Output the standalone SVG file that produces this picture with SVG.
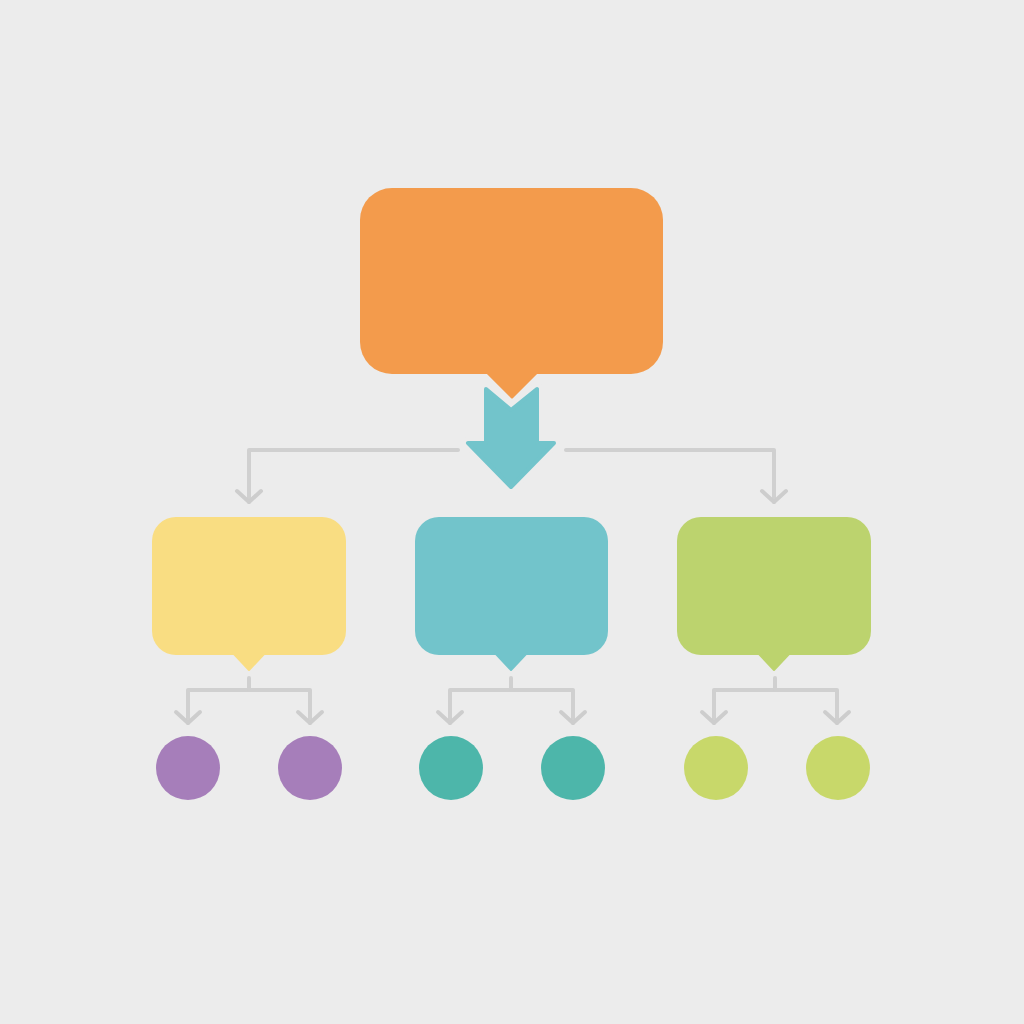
<svg xmlns="http://www.w3.org/2000/svg" width="1024" height="1024" viewBox="0 0 1024 1024">
  <defs>
    <marker id="chev" markerUnits="userSpaceOnUse" markerWidth="40" markerHeight="40" refX="0" refY="0" viewBox="-20 -20 40 40" orient="auto" overflow="visible">
      <path d="M-11,-12 L0,0 L-11,12" fill="none" stroke="#cdcdcd" stroke-width="4" stroke-linecap="round" stroke-linejoin="round"/>
    </marker>
  </defs>
  <style>
    .conn { fill: none; stroke: #d0d0d0; stroke-width: 4; stroke-linecap: round; stroke-linejoin: round; }
    .arr { marker-end: url(#chev); }
  </style>
  <rect x="0" y="0" width="1024" height="1024" fill="#ececec"/>

  <g id="connectors">
    <polyline class="conn arr" points="458,450 249,450 249,502"/>
    <polyline class="conn arr" points="566,450 774,450 774,502"/>
    <line class="conn" x1="249" y1="678" x2="249" y2="690"/>
    <polyline class="conn arr" points="249,690 188,690 188,723"/>
    <polyline class="conn arr" points="249,690 310,690 310,723"/>
    <line class="conn" x1="511" y1="678" x2="511" y2="690"/>
    <polyline class="conn arr" points="511,690 450,690 450,723"/>
    <polyline class="conn arr" points="511,690 573,690 573,723"/>
    <line class="conn" x1="775" y1="678" x2="775" y2="690"/>
    <polyline class="conn arr" points="775,690 714,690 714,723"/>
    <polyline class="conn arr" points="775,690 837,690 837,723"/>
  </g>

  <g id="root">
    <rect x="360" y="188" width="303" height="186" rx="32" fill="#f39b4c"/>
    <polygon points="487,372 537,372 512,397" fill="#f39b4c" stroke="#f39b4c" stroke-width="3" stroke-linejoin="round"/>
  </g>

  <g id="main-arrow">
    <polygon points="486,389 511,410 537,389 537,443 554,443 511,487 468,443 486,443" fill="#ececec" stroke="#ececec" stroke-width="12" stroke-linejoin="round"/>
    <polygon points="486,389 511,410 537,389 537,443 554,443 511,487 468,443 486,443" fill="#72c4cb" stroke="#72c4cb" stroke-width="4" stroke-linejoin="round"/>
  </g>

  <g id="node-yellow">
    <rect x="152" y="517" width="194" height="138" rx="24" fill="#f9dd82"/>
    <polygon points="233,653 265,653 249,670" fill="#f9dd82" stroke="#f9dd82" stroke-width="2" stroke-linejoin="round"/>
  </g>
  <g id="node-teal">
    <rect x="415" y="517" width="193" height="138" rx="24" fill="#72c4cb"/>
    <polygon points="495,653 527,653 511,670" fill="#72c4cb" stroke="#72c4cb" stroke-width="2" stroke-linejoin="round"/>
  </g>
  <g id="node-green">
    <rect x="677" y="517" width="194" height="138" rx="24" fill="#bcd36e"/>
    <polygon points="758,653 790,653 774,670" fill="#bcd36e" stroke="#bcd36e" stroke-width="2" stroke-linejoin="round"/>
  </g>

  <g id="leaf-purple-1"><circle cx="188" cy="768" r="32" fill="#a67eba"/></g>
  <g id="leaf-purple-2"><circle cx="310" cy="768" r="32" fill="#a67eba"/></g>
  <g id="leaf-teal-1"><circle cx="451" cy="768" r="32" fill="#4db6aa"/></g>
  <g id="leaf-teal-2"><circle cx="573" cy="768" r="32" fill="#4db6aa"/></g>
  <g id="leaf-green-1"><circle cx="716" cy="768" r="32" fill="#c8d86a"/></g>
  <g id="leaf-green-2"><circle cx="838" cy="768" r="32" fill="#c8d86a"/></g>
</svg>
